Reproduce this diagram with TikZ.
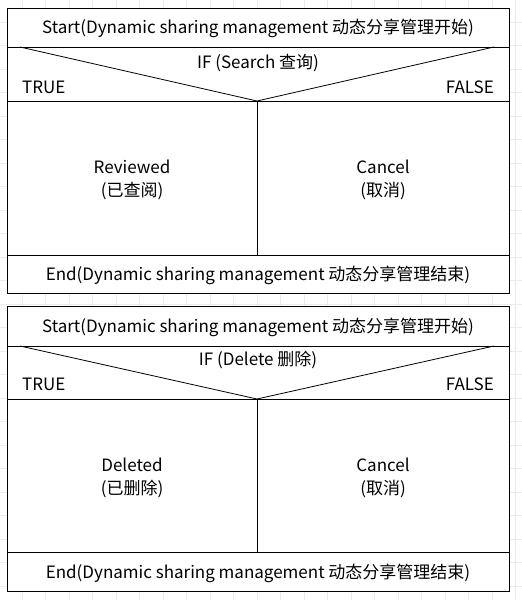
\documentclass[tikz,border=0pt]{standalone}
\usepackage{fontspec}
\setmainfont{Noto Sans CJK SC}
\begin{document}
\begin{tikzpicture}[x=1pt,y=-1pt,
  cell/.style={draw=black, line width=1pt, anchor=north west, inner sep=0pt, outer sep=0pt},
  lbl/.style={inner sep=0pt, font=\fontsize{17}{23}\selectfont, align=center},
  gridline/.style={draw=black!8, line width=0.8pt}]
\useasboundingbox (0,0) rectangle (522,600);
\fill[white] (0,0) rectangle (522,600);
\foreach \i in {0,...,23} { \draw[gridline] ({-1.5+\i*23.5},0) -- ({-1.5+\i*23.5},600); }
\foreach \j in {0,...,26} { \draw[gridline] (0,{-1.5+\j*23.5}) -- (522,{-1.5+\j*23.5}); }

% ---------- Box 1 ----------
\node[cell, minimum width=502pt, minimum height=39pt, fill=white] (s1) at (7,8) {};
\node[lbl] (s1t) at (258,28.5) {Start(Dynamic sharing management 动态分享管理开始)};
\node[cell, minimum width=502pt, minimum height=54pt, fill=white] (if1) at (7,47) {};
\node[cell, minimum width=250pt, minimum height=154pt, fill=white] (l1) at (7,101) {};
\node[cell, minimum width=252pt, minimum height=154pt, fill=white] (r1) at (257,101) {};
\node[cell, minimum width=502pt, minimum height=38pt, fill=white] (e1) at (7,255) {};
\node[lbl] (e1t) at (258,275) {End(Dynamic sharing management 动态分享管理结束)};
\coordinate (d1l) at (20,47);
\coordinate (d1r) at (494,47);
\coordinate (d1m) at (257,101);
\draw[line width=0.8pt] (d1l) -- (d1m) -- (d1r);
\node[lbl] (if1t) at (258,63) {IF (Search 查询)};
\node[lbl, anchor=west] (t1) at (22,87) {TRUE};
\node[lbl, anchor=east] (f1) at (494,87) {FALSE};
\node[lbl] (rv) at (132,179.5) {Reviewed\\(已查阅)};
\node[lbl] (c1) at (383,179.5) {Cancel\\(取消)};

% ---------- Box 2 ----------
\node[cell, minimum width=502pt, minimum height=40pt, fill=white] (s2) at (7,306) {};
\node[lbl] (s2t) at (258,327) {Start(Dynamic sharing management 动态分享管理开始)};
\node[cell, minimum width=502pt, minimum height=53pt, fill=white] (if2) at (7,346) {};
\node[cell, minimum width=250pt, minimum height=153pt, fill=white] (l2) at (7,399) {};
\node[cell, minimum width=252pt, minimum height=153pt, fill=white] (r2) at (257,399) {};
\node[cell, minimum width=502pt, minimum height=39pt, fill=white] (e2) at (7,552) {};
\node[lbl] (e2t) at (258,573) {End(Dynamic sharing management 动态分享管理结束)};
\coordinate (d2l) at (20,346);
\coordinate (d2r) at (494,346);
\coordinate (d2m) at (257,399);
\draw[line width=0.8pt] (d2l) -- (d2m) -- (d2r);
\node[lbl] (if2t) at (258,360) {IF (Delete 删除)};
\node[lbl, anchor=west] (t2) at (22,384) {TRUE};
\node[lbl, anchor=east] (f2) at (494,384) {FALSE};
\node[lbl] (dl) at (132,478) {Deleted\\(已删除)};
\node[lbl] (c2) at (383,478) {Cancel\\(取消)};
\end{tikzpicture}
\end{document}
